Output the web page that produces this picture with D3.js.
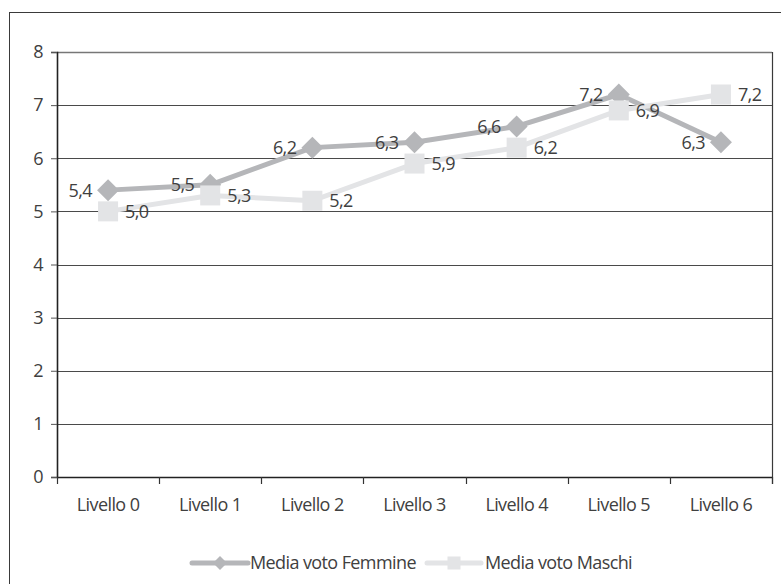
<!DOCTYPE html>
<html>
<head>
<meta charset="utf-8">
<script src="https://cdn.jsdelivr.net/npm/d3@7/dist/d3.min.js"></script>
<style>
  html, body { margin: 0; padding: 0; background: #fff; }
  svg { display: block; }
  text { font-family: "Open Sans", "Noto Sans", sans-serif; fill: #404040; font-size: 18px; letter-spacing: -0.6px; }
</style>
</head>
<body>
<svg id="chart" width="781" height="584"></svg>
<script>
// Categories and series values
const livelli = ["Livello 0", "Livello 1", "Livello 2", "Livello 3", "Livello 4", "Livello 5", "Livello 6"];
const femmine = [5.4, 5.5, 6.2, 6.3, 6.6, 7.2, 6.3];
const maschi  = [5.0, 5.3, 5.2, 5.9, 6.2, 6.9, 7.2];
const yTicks  = [0, 1, 2, 3, 4, 5, 6, 7, 8];
const seriesNames = ["Media voto Femmine", "Media voto Maschi"];

const fmt = v => d3.format(".1f")(v).replace(".", ",");

const svg = d3.select("#chart");
const plot = { left: 57, right: 772, top: 52, bottom: 477 };

const colF = "#b5b6b9";
const colM = "#e3e4e6";

// Outer frame (runs past the right and bottom edges)
svg.append("rect")
  .attr("x", 9.5).attr("y", 12.5)
  .attr("width", 820).attr("height", 620)
  .attr("fill", "none").attr("stroke", "#3a3a3a").attr("stroke-width", 1);

const x = d3.scaleBand().domain(livelli).range([plot.left, plot.right]);
const y = d3.scaleLinear().domain([0, 8]).range([plot.bottom, plot.top]);
const cx = c => x(c) + x.bandwidth() / 2;

// Horizontal gridlines
svg.append("g").selectAll("line").data(yTicks.filter(t => t > 0)).join("line")
  .attr("x1", plot.left).attr("x2", plot.right)
  .attr("y1", d => Math.round(y(d)) + 0.5).attr("y2", d => Math.round(y(d)) + 0.5)
  .attr("stroke", d => d === 8 ? "#777" : "#4a4a4a")
  .attr("stroke-width", d => d === 8 ? 1.6 : 1);

// Right border of the plot area
svg.append("line")
  .attr("x1", plot.right + 0.5).attr("x2", plot.right + 0.5)
  .attr("y1", plot.top).attr("y2", plot.bottom + 7)
  .attr("stroke", "#3a3a3a").attr("stroke-width", 1.2);

// Y axis
const yAxis = svg.append("g")
  .attr("transform", `translate(${plot.left},0)`)
  .call(d3.axisLeft(y).tickValues(yTicks).tickSize(6).tickPadding(8).tickFormat(d3.format("d")));
yAxis.select(".domain").attr("stroke", "#222").attr("stroke-width", 1.6);
yAxis.selectAll(".tick line").attr("stroke", "#555");
yAxis.selectAll("text").attr("font-size", 18).attr("fill", "#404040")
  .style("font-family", "'Open Sans', sans-serif");

// X axis: labels centred in each band, ticks at band boundaries
const xAxis = svg.append("g")
  .attr("transform", `translate(0,${plot.bottom})`)
  .call(d3.axisBottom(x).tickSize(0).tickPadding(21));
xAxis.select(".domain").attr("stroke", "#222").attr("stroke-width", 1.6);
xAxis.selectAll("text").attr("font-size", 18).attr("fill", "#404040")
  .style("font-family", "'Open Sans', sans-serif");
svg.append("g").selectAll("line")
  .data(livelli.map(c => x(c)).concat([plot.right]))
  .join("line")
  .attr("x1", d => Math.round(d) + 0.5).attr("x2", d => Math.round(d) + 0.5)
  .attr("y1", plot.bottom).attr("y2", plot.bottom + 7)
  .attr("stroke", "#333").attr("stroke-width", 1.2);

const line = d3.line().x((d, i) => cx(livelli[i])).y(d => y(d));

const diamond = (g, px, py, r, color) =>
  g.append("path")
    .attr("d", `M${px},${py - r}L${px + r},${py}L${px},${py + r}L${px - r},${py}Z`)
    .attr("fill", color);
const square = (g, px, py, s, color) =>
  g.append("rect")
    .attr("x", px - s / 2).attr("y", py - s / 2)
    .attr("width", s).attr("height", s)
    .attr("fill", color);

// Femmine series
const gF = svg.append("g");
gF.append("path").datum(femmine)
  .attr("d", line).attr("fill", "none")
  .attr("stroke", colF).attr("stroke-width", 5).attr("stroke-linejoin", "round");
femmine.forEach((v, i) => diamond(gF, cx(livelli[i]), y(v), 11, colF));

// Maschi series
const gM = svg.append("g");
gM.append("path").datum(maschi)
  .attr("d", line).attr("fill", "none")
  .attr("stroke", colM).attr("stroke-width", 5).attr("stroke-linejoin", "round");
maschi.forEach((v, i) => square(gM, cx(livelli[i]), y(v), 20, colM));

// Value labels
const gL = svg.append("g");
gL.selectAll("text.f").data(femmine).join("text")
  .attr("class", "f")
  .attr("x", (d, i) => cx(livelli[i]) - 16)
  .attr("y", d => y(d))
  .attr("dy", "0.36em")
  .attr("text-anchor", "end")
  .text(fmt);
gL.selectAll("text.m").data(maschi).join("text")
  .attr("class", "m")
  .attr("x", (d, i) => cx(livelli[i]) + 17)
  .attr("y", d => y(d))
  .attr("dy", "0.36em")
  .attr("text-anchor", "start")
  .text(fmt);

// Legend
const legY = 563;
const leg = svg.append("g");
leg.append("line").attr("x1", 192).attr("x2", 248).attr("y1", legY).attr("y2", legY)
  .attr("stroke", colF).attr("stroke-width", 5).attr("stroke-linecap", "round");
diamond(leg, 220, legY, 7, colF);
leg.append("text").attr("x", 250).attr("y", legY).attr("dy", "0.36em").text(seriesNames[0]);

leg.append("line").attr("x1", 427).attr("x2", 481).attr("y1", legY).attr("y2", legY)
  .attr("stroke", colM).attr("stroke-width", 5).attr("stroke-linecap", "round");
square(leg, 454, legY, 13, colM);
leg.append("text").attr("x", 485).attr("y", legY).attr("dy", "0.36em").text(seriesNames[1]);
</script>
</body>
</html>
